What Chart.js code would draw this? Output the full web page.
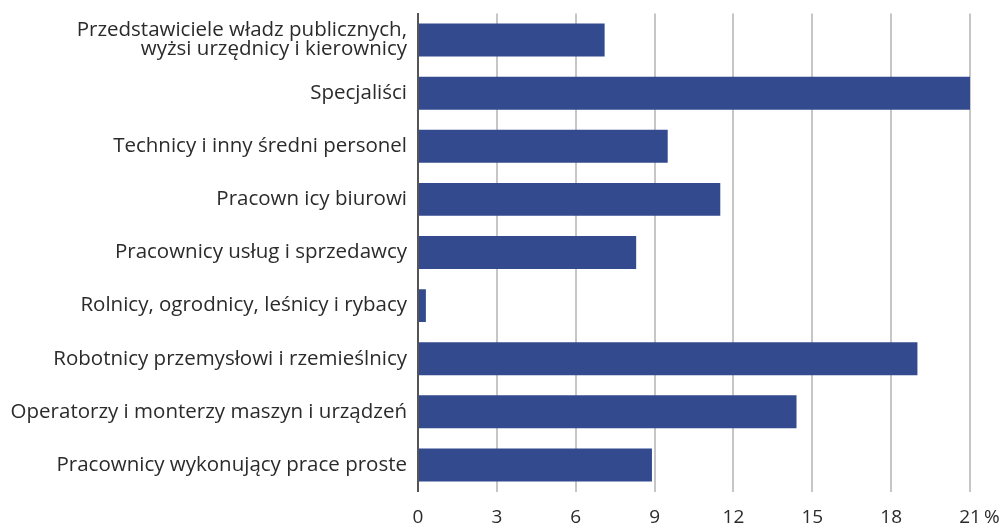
<!DOCTYPE html>
<html>
<head>
<meta charset="utf-8">
<script src="https://cdn.jsdelivr.net/npm/chart.js@4"></script>
<style>
  html, body { margin: 0; padding: 0; background: #fff; }
  #wrap { width: 1005px; height: 527px; }
</style>
</head>
<body>
<div id="wrap"><canvas id="chart"></canvas></div>
<script>
// Categories (occupation groups)
const categories = [
    ["Przedstawiciele władz publicznych,", "wyżsi urzędnicy i kierownicy"],
    "Specjaliści",
    "Technicy i inny średni personel",
    "Pracown icy biurowi",
    "Pracownicy usług i sprzedawcy",
    "Rolnicy, ogrodnicy, leśnicy i rybacy",
    "Robotnicy przemysłowi i rzemieślnicy",
    "Operatorzy i monterzy maszyn i urządzeń",
    "Pracownicy wykonujący prace proste"
];

// Share in %
const shares = [7.1, 21.0, 9.5, 11.5, 8.3, 0.3, 19.0, 14.4, 8.9];

// X axis ticks
const xTicks = [0, 3, 6, 9, 12, 15, 18, 21];
const xUnit = "%";

const fontFamily = "'Open Sans', sans-serif";

new Chart(document.getElementById("chart"), {
    type: "bar",
    data: {
        labels: categories,
        datasets: [{
            data: shares,
            backgroundColor: "#334a8f",
            borderWidth: 0,
            categoryPercentage: 1,
            barPercentage: 0.62
        }]
    },
    options: {
        indexAxis: "y",
        responsive: true,
        maintainAspectRatio: false,
        animation: false,
        layout: { padding: { top: 13.5, right: 35, bottom: 0, left: 0 } },
        plugins: { legend: { display: false }, tooltip: { enabled: false } },
        scales: {
            x: {
                min: xTicks[0],
                max: xTicks[xTicks.length - 1],
                afterBuildTicks: scale => {
                    scale.ticks = xTicks.map(v => ({ value: v }));
                },
                afterFit: scale => {
                    scale.height = 35.5;
                    scale.paddingLeft = 0;
                    scale.paddingRight = 0;
                },
                grid: {
                    drawTicks: false,
                    lineWidth: 2,
                    color: ctx => ctx.tick && ctx.tick.value === 0 ? "#555" : "#c6c6c6"
                },
                border: { display: false },
                ticks: {
                    padding: 15,
                    color: "#2b2b2b",
                    font: { family: fontFamily, size: 19 },
                    maxRotation: 0,
                    // keep the number centred on its gridline, unit hangs to the right
                    callback: v => v === xTicks[xTicks.length - 1] ? "\u2003" + v + "\u2009" + xUnit : v
                }
            },
            y: {
                afterFit: scale => {
                    scale.width = 418;
                    scale.paddingTop = 0;
                    scale.paddingBottom = 0;
                },
                grid: { display: false, drawTicks: false },
                border: { display: true, color: "#555", width: 2 },
                ticks: {
                    padding: 11,
                    color: "#2b2b2b",
                    font: { family: fontFamily, size: 20.5, lineHeight: 0.93 },
                    autoSkip: false
                }
            }
        }
    }
});
</script>
</body>
</html>
